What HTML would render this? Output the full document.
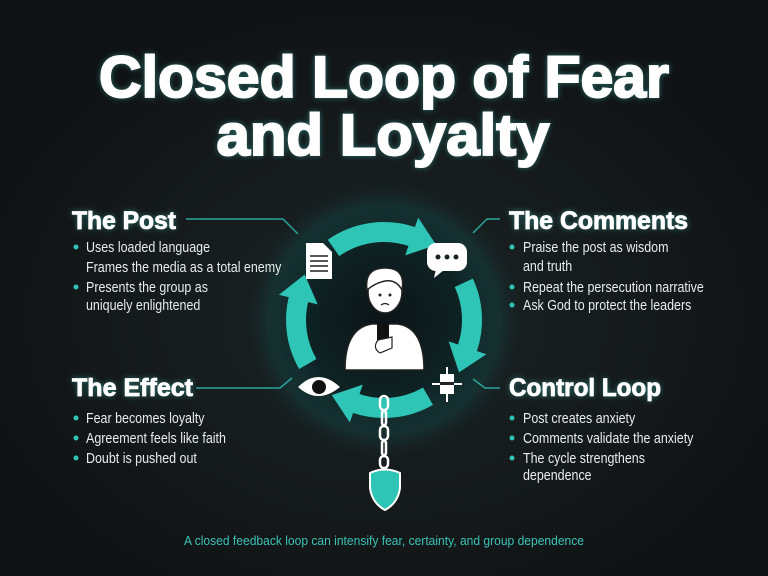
<!DOCTYPE html>
<html><head><meta charset="utf-8"><style>
html,body{margin:0;padding:0;background:#121416;}
svg{display:block}
text{font-family:"Liberation Sans",sans-serif;}
.h{font-weight:bold;fill:#fff;font-size:25px;stroke:#fff;stroke-width:0.8px;}
.b{fill:#e8ecec;font-size:14.5px;}
</style></head><body>
<svg width="768" height="576" viewBox="0 0 768 576" xmlns="http://www.w3.org/2000/svg">
<defs>
<radialGradient id="bg" cx="50%" cy="55%" r="60%"><stop offset="0" stop-color="#1c2426"/><stop offset="1" stop-color="#0f1112"/></radialGradient>
<radialGradient id="cg" cx="50%" cy="50%" r="50%"><stop offset="0" stop-color="#0c1416"/><stop offset="0.55" stop-color="#0e2224"/><stop offset="0.8" stop-color="#14403f" stop-opacity="0.5"/><stop offset="1" stop-color="#121416" stop-opacity="0"/></radialGradient>
<filter id="glow" x="-20%" y="-40%" width="140%" height="180%"><feGaussianBlur stdDeviation="3" result="b"/><feFlood flood-color="#3fd0c4" flood-opacity="0.45"/><feComposite in2="b" operator="in"/><feMerge><feMergeNode/><feMergeNode in="SourceGraphic"/></feMerge></filter>
<marker id="ah" markerUnits="userSpaceOnUse" markerWidth="30" markerHeight="44" refX="1" refY="20" orient="auto"><path d="M0,0 L26,20 L0,40 Z" fill="#2ec4b6"/></marker>
</defs>
<rect width="768" height="576" fill="url(#bg)"/>
<circle cx="384" cy="320" r="145" fill="url(#cg)"/>
<g filter="url(#glow)">
<text x="384" y="97" text-anchor="middle" font-size="58" font-weight="bold" fill="#fff" stroke="#fff" stroke-width="2" textLength="570" lengthAdjust="spacingAndGlyphs">Closed Loop of Fear</text>
<text x="383" y="155" text-anchor="middle" font-size="58" font-weight="bold" fill="#fff" stroke="#fff" stroke-width="2" textLength="333" lengthAdjust="spacingAndGlyphs">and Loyalty</text>
</g>
<!-- arcs -->
<g fill="none" stroke="#2ec4b6" stroke-width="20">
<path d="M333.5,247.9 A88,88 0 0 1 412.6,236.8" marker-end="url(#ah)"/>
<path d="M463.8,282.8 A88,88 0 0 1 467.2,348.7" marker-end="url(#ah)"/>
<path d="M428,396.2 A88,88 0 0 1 355.4,403.2" marker-end="url(#ah)"/>
<path d="M307.8,364 A88,88 0 0 1 298.6,298.7" marker-end="url(#ah)"/>
</g>
<!-- connector lines -->
<g stroke="#2aa59a" stroke-width="1.5" fill="none">
<path d="M186,219 L283,219 L298,234"/>
<path d="M500,219 L487,219 L473,233"/>
<path d="M196,388 L280,388 L292,378"/>
<path d="M500,388 L485,388 L473,379"/>
</g>
<!-- document -->
<path d="M306,243 L323,243 L332,252 L332,279 L306,279 Z" fill="#fff"/>
<g stroke="#222" stroke-width="1.5"><line x1="310" y1="256" x2="328" y2="256"/><line x1="310" y1="261" x2="328" y2="261"/><line x1="310" y1="266" x2="328" y2="266"/><line x1="310" y1="271" x2="328" y2="271"/></g>
<!-- speech -->
<rect x="427" y="243" width="40" height="28" rx="9" fill="#fff"/><path d="M436,269 L434,278 L444,270 Z" fill="#fff"/>
<circle cx="438" cy="257" r="2.5" fill="#1a2426"/><circle cx="447" cy="257" r="2.5" fill="#1a2426"/><circle cx="456" cy="257" r="2.5" fill="#1a2426"/>
<!-- eye -->
<path d="M298,387 Q318,367 340,387 Q318,405 298,387 Z" fill="#fff"/><circle cx="319" cy="387" r="7" fill="#111"/>
<!-- gadget -->
<rect x="440" y="374" width="14" height="20" fill="#fff"/><line x1="432" y1="384" x2="462" y2="384" stroke="#fff" stroke-width="2"/><line x1="447" y1="367" x2="447" y2="402" stroke="#fff" stroke-width="2"/><rect x="440" y="382" width="14" height="3" fill="#222"/>
<!-- person -->
<path d="M345,370 Q345,328 372,324 L398,324 Q424,328 424,370 Z" fill="#fff" stroke="#222" stroke-width="1.5"/>
<ellipse cx="385" cy="292" rx="17" ry="21" fill="#fff" stroke="#222" stroke-width="1.5"/>
<path d="M367,290 Q364,268 385,268 Q406,268 402,290 Q396,279 385,281 Q375,283 367,290 Z" fill="#fff" stroke="#222" stroke-width="1.5"/>
<circle cx="380" cy="295" r="1.5" fill="#222"/><circle cx="390" cy="295" r="1.5" fill="#222"/>
<path d="M381,305 Q385,302 389,305" stroke="#222" fill="none" stroke-width="1.2"/>
<rect x="377" y="323" width="12" height="20" rx="2" fill="#111"/>
<path d="M378,340 Q372,348 380,353 L392,348 L392,337 Z" fill="#fff" stroke="#222" stroke-width="1.2"/>
<!-- chain -->
<g fill="none" stroke="#fff" stroke-width="2.5">
<rect x="380" y="396" width="8" height="14" rx="4"/><rect x="382" y="411" width="4" height="14" rx="2"/><rect x="380" y="426" width="8" height="14" rx="4"/><rect x="382" y="441" width="4" height="14" rx="2"/><rect x="380" y="456" width="8" height="12" rx="4"/>
</g>
<path d="M370,473 Q385,466 400,473 L400,488 Q398,503 385,510 Q372,503 370,488 Z" fill="#2ec4b6" stroke="#fff" stroke-width="2"/>
<!-- headings -->
<g filter="url(#glow)">
<text class="h" x="72" y="229" textLength="104" lengthAdjust="spacingAndGlyphs">The Post</text>
<text class="h" x="509" y="229" textLength="179" lengthAdjust="spacingAndGlyphs">The Comments</text>
<text class="h" x="72" y="396" textLength="121" lengthAdjust="spacingAndGlyphs">The Effect</text>
<text class="h" x="509" y="396" textLength="152" lengthAdjust="spacingAndGlyphs">Control Loop</text>
</g>
<g fill="#2ec4b6">
<circle cx="76" cy="247" r="2.5"/><circle cx="76" cy="287" r="2.5"/>
<circle cx="512" cy="247" r="2.5"/><circle cx="512" cy="287" r="2.5"/><circle cx="512" cy="305" r="2.5"/>
<circle cx="76" cy="418" r="2.5"/><circle cx="76" cy="438" r="2.5"/><circle cx="76" cy="458" r="2.5"/>
<circle cx="512" cy="418" r="2.5"/><circle cx="512" cy="438" r="2.5"/><circle cx="512" cy="458" r="2.5"/>
</g>
<g transform="translate(86,0) scale(0.86,1)">
<text class="b" x="0" y="252">Uses loaded language</text>
<text class="b" x="0" y="272">Frames the media as a total enemy</text>
<text class="b" x="0" y="292">Presents the group as</text>
<text class="b" x="0" y="310">uniquely enlightened</text>
<text class="b" x="0" y="423">Fear becomes loyalty</text>
<text class="b" x="0" y="443">Agreement feels like faith</text>
<text class="b" x="0" y="463">Doubt is pushed out</text>
</g>
<g transform="translate(523,0) scale(0.86,1)">
<text class="b" x="0" y="252">Praise the post as wisdom</text>
<text class="b" x="0" y="271">and truth</text>
<text class="b" x="0" y="292">Repeat the persecution narrative</text>
<text class="b" x="0" y="310">Ask God to protect the leaders</text>
<text class="b" x="0" y="423">Post creates anxiety</text>
<text class="b" x="0" y="443">Comments validate the anxiety</text>
<text class="b" x="0" y="463">The cycle strengthens</text>
<text class="b" x="0" y="480">dependence</text>
</g>
<text x="384" y="545" text-anchor="middle" font-size="13" fill="#3cc3b6" textLength="400" lengthAdjust="spacingAndGlyphs">A closed feedback loop can intensify fear, certainty, and group dependence</text>
</svg>
</body></html>
